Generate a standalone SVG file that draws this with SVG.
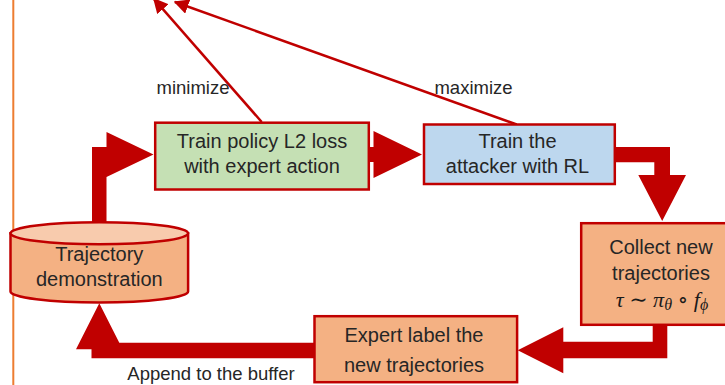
<svg xmlns="http://www.w3.org/2000/svg" width="725" height="385" viewBox="0 0 725 385">
<style>
.box{stroke:#C00000;stroke-width:2.5}
.t{font-family:"Liberation Sans",Arial,sans-serif;font-size:20px;fill:#262626;text-anchor:middle}
.lbl{font-family:"Liberation Sans",Arial,sans-serif;font-size:18.5px;fill:#262626;text-anchor:middle}
.math{font-family:"Liberation Serif","DejaVu Serif",serif;font-style:italic;font-size:22px;fill:#1a1a1a;text-anchor:middle}
.block{fill:#C00000}
.thin{stroke:#C00000;stroke-width:2.5;fill:none}
</style>
<defs>
<marker id="ah" viewBox="0 0 10 10" refX="9" refY="5" markerWidth="6" markerHeight="6" orient="auto" markerUnits="strokeWidth">
<path d="M0,0 L10,5 L0,10 z" fill="#C00000"/>
</marker>
</defs>
<rect width="725" height="385" fill="#ffffff"/>
<line x1="13.3" y1="0" x2="13.3" y2="385" stroke="#ED7D31" stroke-width="2"/>
<g id="connectors">
<path class="block" d="M92,228 L92,147 L106.5,147 L106.5,132 L153.5,154.5 L106.5,177 L106.5,228 Z"/>
<path class="block" d="M368,147 L373.5,147 L373.5,131 L422,154.5 L373.5,178 L373.5,162 L368,162 Z"/>
<path class="block" d="M614,147 L670,147 L670,175 L686,175 L662.2,221 L638.3,175 L654.3,175 L654.3,162.3 L614,162.3 Z"/>
<path class="block" d="M652.7,324 L667.3,324 L667.3,358.3 L563.3,358.3 L563.3,373.3 L517.7,350.3 L563.3,327.3 L563.3,341.7 L652.7,341.7 Z"/>
<path class="block" d="M316,342.7 L119.3,342.7 L99.3,303.3 L76,349.3 L91.5,349.3 L91.5,358.3 L316,358.3 Z"/>
<line class="thin" x1="261.7" y1="122" x2="154" y2="-1" marker-end="url(#ah)"/>
<line class="thin" x1="516.7" y1="124.5" x2="175" y2="2" marker-end="url(#ah)"/>
<text class="lbl" x="193" y="94">minimize</text>
<text class="lbl" x="473.5" y="94">maximize</text>
<text class="lbl" x="211" y="379.5">Append to the buffer</text>
</g>
<g id="node-trajectory">
<path d="M10.5,233.3 L10.5,291.5 A88.8,11 0 0 0 188.1,291.5 L188.1,233.3 Z" fill="#F4B183" class="box"/>
<ellipse cx="99.3" cy="233.3" rx="88.8" ry="11" fill="#F8CBAD" class="box"/>
<text class="t" x="99.3" y="261">Trajectory</text>
<text class="t" x="99.3" y="286">demonstration</text>
</g>
<g id="node-train-policy">
<rect class="box" x="155.2" y="122.7" width="213.6" height="66.8" fill="#C5E0B4"/>
<text class="t" x="262" y="148.3">Train policy L2 loss</text>
<text class="t" x="262" y="173.3">with expert action</text>
</g>
<g id="node-train-attacker">
<rect class="box" x="424" y="124.5" width="190.8" height="59.5" fill="#BDD7EE"/>
<text class="t" x="517.5" y="148.3">Train the</text>
<text class="t" x="517.5" y="173.3">attacker with RL</text>
</g>
<g id="node-collect">
<rect class="box" x="581.2" y="223.2" width="160" height="101.6" fill="#F4B183"/>
<text class="t" x="661" y="254">Collect new</text>
<text class="t" x="661" y="280">trajectories</text>
<text class="math" x="662" y="307">τ ∼ π<tspan dy="3" font-size="16">θ</tspan><tspan dy="-3"> ∘ f</tspan><tspan dy="3" font-size="16">ϕ</tspan></text>
</g>
<g id="node-expert">
<rect class="box" x="314.5" y="316.2" width="202.6" height="66" fill="#F4B183"/>
<text class="t" x="414" y="341.7">Expert label the</text>
<text class="t" x="414" y="371.7">new trajectories</text>
</g>
</svg>
